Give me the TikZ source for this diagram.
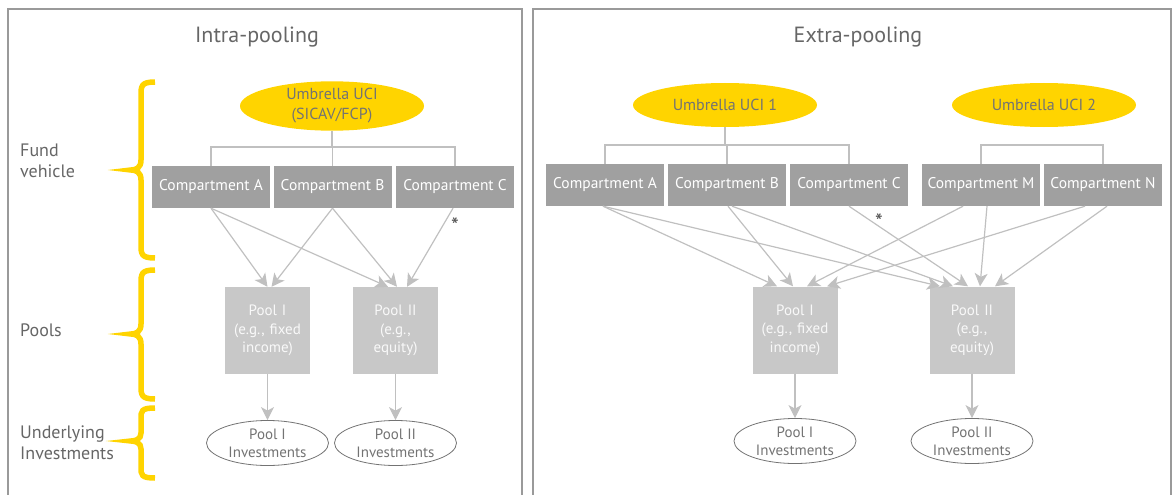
\documentclass[tikz,border=0pt]{standalone}
\usepackage{fontspec}
\setmainfont{PT Sans}
\usetikzlibrary{shapes.geometric,arrows.meta,calc}
\definecolor{eyyellow}{HTML}{FFD400}
\definecolor{compgray}{HTML}{A0A0A0}
\definecolor{poolgray}{HTML}{C8C8C8}
\definecolor{conngray}{HTML}{C0C0C0}
\definecolor{txtgray}{HTML}{666666}
\definecolor{framegray}{HTML}{9A9A9A}
\tikzset{
  panel/.style={draw=framegray, line width=1.3pt},
  ttl/.style={text=txtgray, font=\fontsize{22}{26}\selectfont},
  lab/.style={text=txtgray, font=\fontsize{18}{21}\selectfont, anchor=west, align=left, inner sep=0},
  comp/.style={rectangle, fill=compgray, minimum width=118pt, minimum height=42pt, inner sep=0, text=white, font=\fontsize{15.5}{18}\selectfont},
  pool/.style={rectangle, fill=poolgray, minimum width=85pt, minimum height=87pt, inner sep=0, text width=85pt, align=center, text=white!95!gray, font=\fontsize{15}{18.5}\selectfont},
  umb/.style={ellipse, fill=eyyellow, minimum width=184pt, minimum height=44pt, inner sep=0, align=center, text=black!55, font=\fontsize{16}{20}\selectfont},
  inv/.style={ellipse, draw=black!55, line width=0.8pt, minimum width=122pt, minimum height=45pt, inner sep=0, align=center, text=black!55, font=\fontsize{15}{18}\selectfont},
  conn/.style={draw=conngray, line width=1.2pt},
  arr/.style={conn, -{Stealth[length=13pt, width=13pt, inset=3.5pt]}},
  ybrace/.style={draw=eyyellow, line width=5.5pt, line cap=butt},
  astx/.style={text=black!70, font=\fontsize{22}{22}\selectfont, inner sep=0}
}
\begin{document}
\begin{tikzpicture}[x=1pt,y=-1pt]
\useasboundingbox (0,0) rectangle (1173,495);
% panels
\draw[panel] (8,500) -- (8,9) -- (522,9) -- (522,500);
\draw[panel] (533,500) -- (533,9) -- (1171,9) -- (1171,500);
% titles
\node[ttl] (t1) at (257,37) {Intra-pooling};
\node[ttl] (t2) at (858,37) {Extra-pooling};
% left labels
\node[lab] (l1) at (20,161) {Fund\\vehicle};
\node[lab] (l2) at (20,330) {Pools};
\node[lab] (l3) at (20,443) {Underlying\\Investments};
% braces
\draw[ybrace] (155,82) .. controls (141,82) and (141,86) .. (141,96) -- (141,160) .. controls (141,168) and (136,170) .. (131,170) .. controls (136,170) and (141,172) .. (141,180) -- (141,244) .. controls (141,254) and (141,258) .. (155,258);
\draw[ybrace] (155,270) .. controls (141,270) and (141,274) .. (141,284) -- (141,324) .. controls (141,332) and (136,334) .. (131,334) .. controls (136,334) and (141,336) .. (141,344) -- (141,385) .. controls (141,395) and (141,399) .. (155,399);
\draw[ybrace] (155,408) .. controls (141,408) and (141,411) .. (141,419) -- (141,433) .. controls (141,439) and (136,441) .. (131,441) .. controls (136,441) and (141,443) .. (141,449) -- (141,467) .. controls (141,475) and (141,478) .. (155,478);

% ---------- Intra-pooling ----------
\node[umb] (lU) at (332,106) {Umbrella UCI\\(SICAV/FCP)};
\node[comp] (lA) at (211,187) {Compartment A};
\node[comp] (lB) at (332.5,187) {Compartment B};
\node[comp] (lC) at (455,187) {Compartment C};
\node[pool] (lP1) at (267.5,330.5) {Pool I\\(e.g., fixed\\income)};
\node[pool] (lP2) at (395.5,330.5) {Pool II\\(e.g.,\\equity)};
\node[inv] (lI1) at (267.5,443) {Pool I\\Investments};
\node[inv] (lI2) at (395.5,443) {Pool II\\Investments};
\coordinate (lbar) at (0,147);
\draw[conn] (lU.south) -- (lU.south |- lbar);
\draw[conn] (lA.north) -- (lA.north |- lbar) -- (lC.north |- lbar) -- (lC.north);
\draw[conn] (lB.north) -- (lB.north |- lbar);
\draw[arr] (lA.south) -- (lP1.north);
\draw[arr] (lA.south) -- ([xshift=-7.5pt]lP2.north);
\draw[arr] (lB.south) -- ([xshift=4pt]lP1.north);
\draw[arr] (lB.south) -- ([xshift=1.5pt]lP2.north);
\draw[arr] ([xshift=-2pt]lC.south) -- ([xshift=11.5pt]lP2.north);
\draw[arr] (lP1.south) -- (lI1.north);
\draw[arr] (lP2.south) -- (lI2.north);
\node[astx] (la) at (455,226) {*};

% ---------- Extra-pooling ----------
\node[umb] (rU1) at (725,105) {Umbrella UCI 1};
\node[umb] (rU2) at (1044,105) {Umbrella UCI 2};
\node[comp] (rA) at (605,185) {Compartment A};
\node[comp] (rB) at (727,185) {Compartment B};
\node[comp] (rC) at (849,185) {Compartment C};
\node[comp] (rM) at (981,185) {Compartment M};
\node[comp] (rN) at (1103,185) {Compartment N};
\node[pool] (rP1) at (795,330) {Pool I\\(e.g., fixed\\income)};
\node[pool] (rP2) at (972,330) {Pool II\\(e.g.,\\equity)};
\node[inv] (rI1) at (795,441) {Pool I\\Investments};
\node[inv] (rI2) at (972,441) {Pool II\\Investments};
\coordinate (rbar) at (0,145);
\draw[conn] (rU1.south) -- (rU1.south |- rbar);
\draw[conn] (rA.north) -- (rA.north |- rbar) -- (rC.north |- rbar) -- (rC.north);
\draw[conn] (rB.north) -- (rB.north |- rbar);
\draw[conn] (rM.north) -- (rM.north |- rbar) -- (rN.north |- rbar) -- (rN.north);
\draw[arr] ([xshift=-2pt]rA.south) -- ([xshift=-18pt]rP1.north);
\draw[arr] ([xshift=-2pt]rA.south) -- ([xshift=-32pt]rP2.north);
\draw[arr] ([xshift=1pt]rB.south) -- ([xshift=-2pt]rP1.north);
\draw[arr] ([xshift=5pt]rB.south) -- ([xshift=-19pt]rP2.north);
\draw[arr] (rC.south) -- ([xshift=-4pt]rP2.north);
\draw[arr] ([xshift=-18pt]rM.south) -- ([xshift=12pt]rP1.north);
\draw[arr] ([xshift=6pt]rM.south) -- ([xshift=8pt]rP2.north);
\draw[arr] ([xshift=-18pt]rN.south) -- ([xshift=32pt]rP1.north);
\draw[arr] ([xshift=4pt]rN.south) -- ([xshift=23pt]rP2.north);
\draw[arr] (rP1.south) -- (rI1.north);
\draw[arr] (rP2.south) -- (rI2.north);
\node[astx] (ra) at (879,222) {*};
\end{tikzpicture}
\end{document}
